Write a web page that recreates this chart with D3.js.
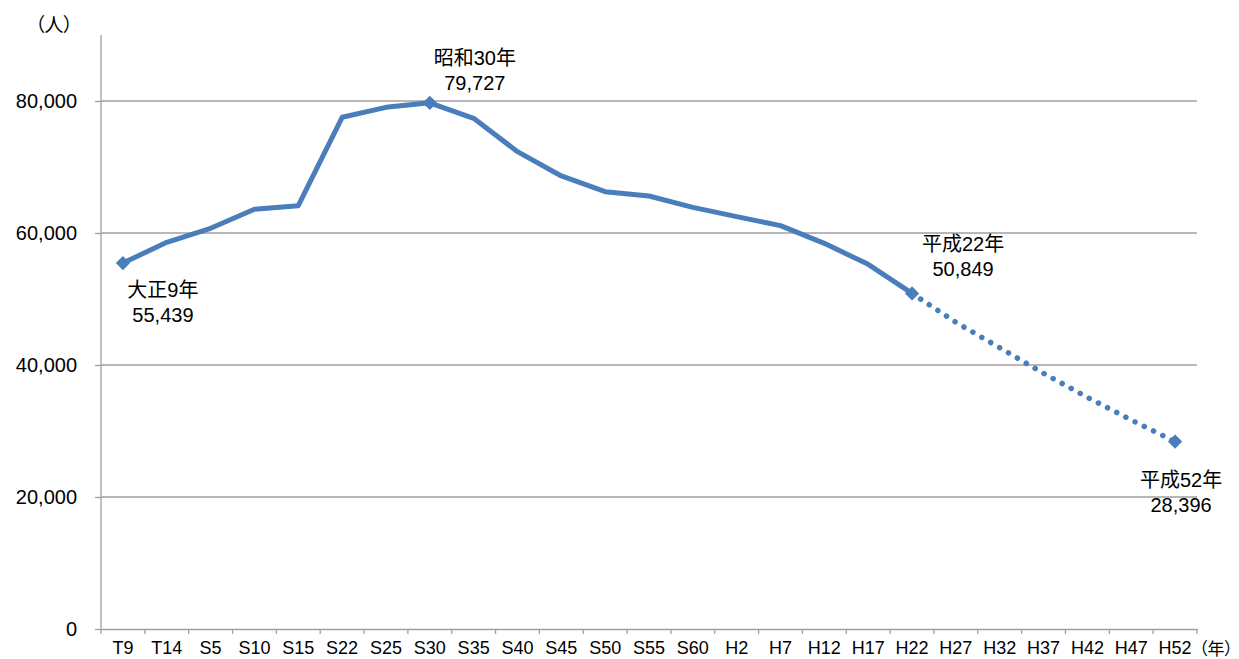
<!DOCTYPE html>
<html>
<head>
<meta charset="utf-8">
<script src="https://cdn.jsdelivr.net/npm/d3@7"></script>
<style>
  body { margin: 0; background: #fff; }
  svg text { font-family: "Liberation Sans", Arial, "Noto Sans CJK JP", sans-serif; fill: #000; }
  svg text.unit { font-family: "Noto Sans CJK JP", sans-serif; font-feature-settings: "palt"; }
</style>
</head>
<body>
<div id="chart"></div>
<script>
// Years on the category axis
const years = ["T9", "T14", "S5", "S10", "S15", "S22", "S25", "S30", "S35", "S40",
    "S45", "S50", "S55", "S60", "H2", "H7", "H12", "H17", "H22",
    "H27", "H32", "H37", "H42", "H47", "H52"];

// Census population (actual), T9 .. H22
const actual = [55439, 58590, 60710, 63590, 64140, 77530, 79040, 79727, 77380, 72320,
    68640, 66260, 65610, 63890, 62480, 61110, 58430, 55250, 50849];

// Projection, H22 .. H52
const projected = [50849, 46470, 42620, 38740, 35100, 31670, 28396];

const yTicks = [0, 20000, 40000, 60000, 80000];

// Callout labels: year index, two lines, offset of first baseline from the point
const callouts = [
    {i: 0, lines: ["大正9年", "55,439"], dx: 40, dy: 34},
    {i: 7, lines: ["昭和30年", "79,727"], dx: 45, dy: -38},
    {i: 18, lines: ["平成22年", "50,849"], dx: 51, dy: -42},
    {i: 24, lines: ["平成52年", "28,396"], dx: 6, dy: 45}
];

const width = 1239;
const height = 659;
const margin = {left: 101, right: 42, top: 35, bottom: 30};
const lineColor = "#4a7ebb";
const gridColor = "#a0a0a0";

const svg = d3.select("#chart")
    .append("svg")
    .attr("width", width)
    .attr("height", height);

const x = d3.scaleBand()
    .domain(years)
    .range([margin.left, width - margin.right]);

const y = d3.scaleLinear()
    .domain([0, 80000])
    .range([height - margin.bottom, 101]);

const cx = d => x(d) + x.bandwidth() / 2;

// Gridlines
svg.append("g")
    .selectAll("line")
    .data(yTicks.filter(d => d > 0))
    .enter().append("line")
    .attr("x1", margin.left)
    .attr("x2", width - margin.right)
    .attr("y1", d => y(d))
    .attr("y2", d => y(d))
    .attr("stroke", gridColor)
    .attr("stroke-width", 1.3);

// Y axis
const yAxis = svg.append("g")
    .attr("transform", `translate(${margin.left},0)`)
    .call(d3.axisLeft(y).tickValues(yTicks).tickSize(6).tickPadding(18)
        .tickFormat(d3.format(",")));
yAxis.select(".domain").remove();
yAxis.append("line")
    .attr("y1", margin.top)
    .attr("y2", y(0))
    .attr("stroke", gridColor)
    .attr("stroke-width", 1.3);
yAxis.selectAll(".tick line").attr("stroke", gridColor).attr("stroke-width", 1.3);
yAxis.selectAll(".tick text").attr("font-size", 20);

// X axis
const xAxis = svg.append("g")
    .attr("transform", `translate(0,${y(0)})`)
    .call(d3.axisBottom(x).tickSize(0).tickPadding(12));
xAxis.select(".domain")
    .attr("stroke", gridColor)
    .attr("stroke-width", 1.3);
xAxis.selectAll(".tick text").attr("font-size", 18);
xAxis.selectAll("line.sep")
    .data(d3.range(years.length + 1))
    .enter().append("line")
    .attr("class", "sep")
    .attr("x1", i => margin.left + i * x.step())
    .attr("x2", i => margin.left + i * x.step())
    .attr("y1", 0)
    .attr("y2", 5)
    .attr("stroke", gridColor)
    .attr("stroke-width", 1.3);

// Unit labels
svg.append("text")
    .attr("class", "unit")
    .attr("x", 54).attr("y", 32)
    .attr("text-anchor", "middle")
    .attr("font-size", 19)
    .text("（人）");
svg.append("text")
    .attr("class", "unit")
    .attr("x", 1199).attr("y", 655)
    .attr("font-size", 17)
    .text("（年）");

const line = d3.line()
    .x(d => cx(d.year))
    .y(d => y(d.value));

const actualData = actual.map((v, i) => ({year: years[i], value: v}));
const projData = projected.map((v, i) => ({year: years[i + actual.length - 1], value: v}));

// Projection (dotted)
svg.append("path")
    .datum(projData)
    .attr("d", line)
    .attr("fill", "none")
    .attr("stroke", lineColor)
    .attr("stroke-width", 5.5)
    .attr("stroke-linecap", "round")
    .attr("stroke-dasharray", "0.1 10.2");

// Actual (solid)
svg.append("path")
    .datum(actualData)
    .attr("d", line)
    .attr("fill", "none")
    .attr("stroke", lineColor)
    .attr("stroke-width", 5)
    .attr("stroke-linejoin", "round");

// Diamond markers on labelled points
const allValues = actual.concat(projected.slice(1));
svg.append("g")
    .selectAll("path")
    .data(callouts)
    .enter().append("path")
    .attr("d", d3.symbol().type(d3.symbolDiamond2).size(130))
    .attr("transform", d => `translate(${cx(years[d.i])},${y(allValues[d.i])})`)
    .attr("fill", lineColor);

// Callout text
const labels = svg.append("g")
    .selectAll("text")
    .data(callouts)
    .enter().append("text")
    .attr("text-anchor", "middle")
    .attr("font-size", 20)
    .attr("x", d => cx(years[d.i]) + d.dx)
    .attr("y", d => y(allValues[d.i]) + d.dy);
labels.selectAll("tspan")
    .data(d => d.lines)
    .enter().append("tspan")
    .attr("x", function() { return d3.select(this.parentNode).attr("x"); })
    .attr("dy", (d, i) => i === 0 ? 0 : 25)
    .text(d => d);
</script>
</body>
</html>
